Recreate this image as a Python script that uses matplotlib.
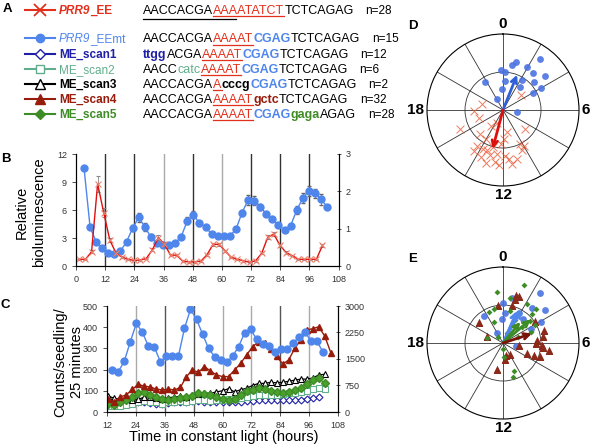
import numpy as np
import matplotlib
matplotlib.use("Agg")
import matplotlib.pyplot as plt

plt.rcParams['font.family'] = ['Liberation Sans', 'DejaVu Sans']

W, H = 592, 448

# colours
RED = '#e2301c'
LBLUE = '#4f86ec'
DBLUE = '#1f1fa8'
MINT = '#62ae8c'
DRED = '#981c0c'
GREEN = '#3d8c26'

# ---------------- panel A: legend + sequences ----------------
legend_names = [("PRR9", "_EE"), ("PRR9", "_EEmt"), ("", "ME_scan1"), ("", "ME_scan2"),
                ("", "ME_scan3"), ("", "ME_scan4"), ("", "ME_scan5")]
legend_counts = ["n=28", "n=15", "n=12", "n=6", "n=2", "n=32", "n=28"]
seq_rows = [
    [("AACCACGA", "k"), ("AAAATATCT", "u"), ("TCTCAGAG", "k")],
    [("AACCACGA", "k"), ("AAAAT", "u"), ("CGAG", "B"), ("TCTCAGAG", "k")],
    [("ttgg", "s1"), ("ACGA", "k"), ("AAAAT", "u"), ("CGAG", "B"), ("TCTCAGAG", "k")],
    [("AACC", "k"), ("catc", "s2"), ("AAAAT", "u"), ("CGAG", "B"), ("TCTCAGAG", "k")],
    [("AACCACGA", "k"), ("A", "u"), ("cccg", "s3"), ("CGAG", "B"), ("TCTCAGAG", "k")],
    [("AACCACGA", "k"), ("AAAAT", "u"), ("gctc", "s4"), ("TCTCAGAG", "k")],
    [("AACCACGA", "k"), ("AAAAT", "u"), ("CGAG", "B"), ("gaga", "s5"), ("AGAG", "k")],
]

# ---------------- panel B: bioluminescence ----------------
b_time_mt = [3.3, 5.8, 8.3, 10.8, 13.3, 15.8, 18.3, 20.8, 23.3, 25.8, 28.3, 30.8, 33.3, 35.8,
             38.3, 40.8, 43.3, 45.8, 48.3, 50.8, 53.3, 55.8, 58.3, 60.8, 63.3, 65.8, 68.3, 70.8,
             73.3, 75.8, 78.3, 80.8, 83.3, 85.8, 88.3, 90.8, 93.3, 95.8, 98.3, 100.8, 103.3]
b_eemt = [10.5, 4.15, 2.6, 1.9, 1.43, 1.25, 1.6, 2.6, 4.05, 5.2, 4.2, 3.1, 2.5, 2.25, 2.2, 2.45,
          3.15, 4.85, 5.5, 4.57, 4.15, 3.43, 3.25, 3.22, 3.22, 3.93, 5.7, 7.07, 7.0, 6.35, 5.57,
          5.0, 4.4, 3.86, 4.3, 6.0, 7.25, 8.07, 7.8, 7.15, 6.35]
b_eemt_err = [0.1, 0.2, 0.15, 0.15, 0.1, 0.1, 0.1, 0.15, 0.3, 0.45, 0.4, 0.3, 0.2, 0.15, 0.15,
              0.15, 0.2, 0.4, 0.4, 0.3, 0.2, 0.15, 0.1, 0.1, 0.1, 0.2, 0.3, 0.55, 0.5, 0.3, 0.25,
              0.2, 0.2, 0.2, 0.25, 0.45, 0.55, 0.55, 0.5, 0.6, 0.2]
b_time_ee = [1.4, 3.9, 6.4, 8.9, 11.4, 13.9, 16.4, 18.9, 21.4, 23.9, 26.4, 28.9, 31.4, 33.9,
             36.4, 38.9, 41.4, 43.9, 46.4, 48.9, 51.4, 53.9, 56.4, 58.9, 61.4, 63.9, 66.4, 68.9,
             71.4, 73.9, 76.4, 78.9, 81.4, 83.9, 86.4, 88.9, 91.4, 93.9, 96.4, 98.9, 101.4]
b_ee = [0.18, 0.18, 0.38, 2.2, 1.43, 0.7, 0.35, 0.24, 0.18, 0.15, 0.16, 0.2, 0.43, 0.76, 0.58,
        0.29, 0.29, 0.13, 0.11, 0.11, 0.13, 0.3, 0.58, 0.58, 0.4, 0.23, 0.18, 0.14, 0.1, 0.14,
        0.34, 0.77, 0.85, 0.56, 0.36, 0.28, 0.18, 0.18, 0.18, 0.18, 0.55]
b_ee_err = [0.02, 0.02, 0.04, 0.22, 0.12, 0.05, 0.03, 0.02, 0.02, 0.02, 0.02, 0.02, 0.04, 0.06,
            0.05, 0.03, 0.03, 0.02, 0.02, 0.02, 0.02, 0.03, 0.04, 0.04, 0.03, 0.02, 0.02, 0.02,
            0.02, 0.02, 0.03, 0.05, 0.05, 0.04, 0.03, 0.02, 0.02, 0.02, 0.02, 0.02, 0.04]

# ---------------- panel C: counts per seedling ----------------
c_time_mt = [14.2, 16.7, 19.2, 21.7, 24.2, 26.7, 29.2, 31.7, 34.2, 36.7, 39.2, 41.7, 44.2, 46.7,
             49.2, 51.7, 54.2, 56.7, 59.2, 61.7, 64.2, 66.7, 69.2, 71.7, 74.2, 76.7, 79.2, 81.7,
             84.2, 86.7, 89.2, 91.7, 94.2, 96.7, 99.2, 101.7]
c_eemt = [198, 190, 240, 332, 418, 376, 311, 305, 237, 264, 264, 264, 395, 484, 437, 368, 300,
          261, 245, 234, 264, 308, 374, 390, 343, 319, 311, 284, 295, 295, 324, 352, 379, 335,
          335, 284]
c_time = [12.5, 15.0, 17.5, 20.0, 22.5, 25.0, 27.5, 30.0, 32.5, 35.0, 37.5, 40.0, 42.5, 45.0,
          47.5, 50.0, 52.5, 55.0, 57.5, 60.0, 62.5, 65.0, 67.5, 70.0, 72.5, 75.0, 77.5, 80.0,
          82.5, 85.0, 87.5, 90.0, 92.5, 95.0, 97.5, 100.0, 102.5, 105.0]
c_scan1 = [50, 45, 40, 42, 45, 45, 45, 42, 40, 40, 42, 45, 45, 48, 50, 50, 48, 48, 47, 45, 45,
           47, 48, 50, 52, 55, 55, 55, 55, 55, 55, 57, 58, 62, 65, 70]
c_scan2 = [30, 28, 30, 35, 40, 45, 50, 48, 45, 40, 45, 48, 50, 48, 52, 55, 55, 52, 55, 58, 60,
           62, 65, 70, 75, 78, 80, 80, 82, 85, 88, 90, 95, 98, 110, 115, 110]
c_scan3 = [75, 65, 60, 62, 55, 60, 70, 72, 68, 62, 68, 70, 75, 72, 80, 85, 90, 88, 95, 100, 110,
           95, 105, 112, 125, 135, 135, 140, 138, 140, 145, 150, 155, 155, 160, 175, 178]
c_scan4 = [60, 49, 72, 80, 107, 130, 122, 118, 108, 104, 108, 104, 116, 167, 198, 187, 214, 193,
           175, 167, 167, 198, 229, 269, 308, 332, 327, 296, 264, 226, 245, 300, 340, 387, 393,
           402, 358, 280]
c_scan5 = [40, 35, 45, 55, 70, 88, 95, 80, 70, 60, 55, 60, 65, 70, 75, 90, 85, 80, 70, 60, 55,
           62, 80, 100, 105, 112, 110, 100, 95, 90, 95, 105, 115, 130, 150, 160, 135]

# ---------------- panels D, E: phase (h) and amplitude ----------------
d_mt_phase = [2.38, 1.02, 0.77, 1.99, 23.85, 0.2, 2.61, 3.36, 21.83, 0.21, 2.2, 3.25, 23.88, 2.4,
              4.01, 4.02, 22.0, 6.44]
d_mt_r = [0.83, 0.66, 0.60, 0.645, 0.53, 0.50, 0.63, 0.71, 0.44, 0.38, 0.47, 0.55, 0.28, 0.37,
          0.58, 0.46, 0.16, 0.19]
d_ee_phase = [3.4, 19.0, 17.9, 14.5, 8.7, 16.4, 14.9, 14.0, 14.4, 13.8, 13.0, 12.5, 13.1, 13.65,
              11.8, 11.5, 10.9, 10.2, 10.3, 12.25, 11.9, 12.6, 13.2, 12.27, 11.36, 14.4, 13.5,
              11.3, 13.4, 16.7, 10.0]
d_ee_r = [0.31, 0.29, 0.38, 0.26, 0.38, 0.62, 0.44, 0.44, 0.59, 0.58, 0.51, 0.58, 0.62, 0.68,
          0.60, 0.65, 0.67, 0.50, 0.59, 0.45, 0.38, 0.69, 0.74, 0.73, 0.72, 0.66, 0.19, 0.30,
          0.57, 0.33, 0.55]
d_mean_phase = [1.45, 13.0]
d_mean_r = [0.50, 0.53]

e_mt_phase = [2.42, 3.45, 2.6, 0.0, 0.25, 21.6, 1.8, 4.07, 21.9, 6.8, 2.6, 4.2, 23.8, 0.76]
e_mt_r = [0.82, 0.71, 0.60, 0.52, 0.39, 0.435, 0.45, 0.57, 0.155, 0.17, 0.41, 0.42, 0.32, 0.6]
e_s4_phase = [1.0, 1.3, 23.46, 0.88, 20.8, 19.55, 9.7, 11.5, 12.8, 7.5, 7.4, 7.24, 6.19, 4.87,
              5.37, 6.62, 3.66, 5.67, 6.5, 6.34, 1.05, 6.03, 11.1]
e_s4_r = [0.65, 0.65, 0.51, 0.52, 0.42, 0.23, 0.17, 0.21, 0.35, 0.34, 0.44, 0.52, 0.52, 0.57,
          0.54, 0.61, 0.51, 0.45, 0.21, 0.53, 0.60, 0.44, 0.16]
e_s5_phase = [1.33, 23.54, 0.57, 23.03, 22.4, 2.1, 3.02, 3.35, 4.07, 1.87, 2.0, 3.32, 4.6, 19.27,
              12.0, 11.7, 10.6, 10.9, 21.5, 2.93, 22.5, 1.6, 4.5, 0.87]
e_s5_r = [0.81, 0.67, 0.6, 0.46, 0.44, 0.6, 0.54, 0.46, 0.48, 0.34, 0.27, 0.32, 0.40, 0.22, 0.08,
          0.18, 0.39, 0.47, 0.10, 0.63, 0.30, 0.14, 0.22, 0.43]
e_mean_phase = [1.57, 1.9, 2.64, 3.3, 4.8]
e_mean_r = [0.46, 0.50, 0.36, 0.48, 0.40]
e_mean_col = [LBLUE, LBLUE, GREEN, GREEN, '#7a1408']
clock_labels = ["0", "6", "12", "18"]

fig = plt.figure(figsize=(W / 100, H / 100), dpi=100)

# overlay in pixel coordinates for panel A and labels
ov = fig.add_axes([0, 0, 1, 1], zorder=-1)
ov.set_xlim(0, W)
ov.set_ylim(H, 0)
ov.axis('off')
renderer = fig.canvas.get_renderer()


def put(x, y, s, **kw):
    t = ov.text(x, y, s, va='baseline', ha='left', **kw)
    return x + t.get_window_extent(renderer).width


def width_of(s, **kw):
    t = ov.text(10, 10, s, **kw)
    w = t.get_window_extent(renderer).width
    t.remove()
    return w


styles = {'k': ('black', 'normal'), 'u': (RED, 'normal'), 'B': (LBLUE, 'bold'),
          's1': (DBLUE, 'bold'), 's2': (MINT, 'normal'), 's3': ('black', 'bold'),
          's4': (DRED, 'bold'), 's5': (GREEN, 'bold')}
leg_col = [RED, LBLUE, DBLUE, MINT, 'black', DRED, GREEN]
leg_mark = [dict(marker='x', ms=9, mew=1.3), dict(marker='o', ms=6),
            dict(marker='D', ms=5.5, mfc='white'), dict(marker='s', ms=5.5, mfc='white'),
            dict(marker='^', ms=6.5, mfc='white'), dict(marker='^', ms=7), dict(marker='D', ms=5.5)]
leg_weight = ['bold', 'normal', 'bold', 'normal', 'bold', 'bold', 'bold']
row_y = [14, 42.5, 58, 73, 88, 103, 118]

for i, segs in enumerate(seq_rows):
    yb = row_y[i]
    ov.plot([25, 40, 55], [yb - 4] * 3, color=leg_col[i], lw=1.5, markevery=[1], **leg_mark[i])
    x = 59
    if legend_names[i][0]:
        x = put(x, yb, legend_names[i][0], color=leg_col[i], fontsize=8.5,
                fontweight=leg_weight[i], fontstyle='italic')
    put(x, yb, legend_names[i][1], color=leg_col[i], fontsize=8.5, fontweight=leg_weight[i])
    x = 143
    for s, key in segs:
        c, w = styles[key]
        x1 = put(x, yb, s, color=c, fontweight=w, fontsize=9)
        if key == 'u':
            ov.plot([x, x1], [yb + 2.5, yb + 2.5], color=RED, lw=0.9)
            if i == 0:
                xa = width_of("AAA", fontsize=9)
                ov.plot([143, x + xa - 2], [yb + 5.5, yb + 5.5], color='black', lw=0.9)
        x = x1
    put(x + 12, yb, legend_counts[i], fontsize=8.5)

tick_kw = dict(labelsize=6.5, length=3, width=0.6, colors='#333')

# ---------------- panel B ----------------
axb = fig.add_axes([76 / W, 1 - 266 / H, 262.5 / W, 112 / H])
axb.set_xlim(0, 108)
axb.set_ylim(0, 12)
axb.set_xticks(range(0, 109, 12))
axb.set_yticks([0, 3, 6, 9, 12])
for t, c in zip(range(12, 97, 12), ['#333', '#333', '#aaa', '#333', '#aaa', '#333', '#333', '#333']):
    axb.axvline(t, color=c, lw=1.0, zorder=0)
axb.errorbar(b_time_mt, b_eemt, yerr=b_eemt_err, color=LBLUE, marker='o', ms=5, lw=1,
             ecolor='#666', elinewidth=0.6, capsize=1.5, zorder=3)
axb2 = axb.twinx()
axb2.set_ylim(0, 3)
axb2.set_yticks([0, 1, 2, 3])
axb2.errorbar(b_time_ee, b_ee, yerr=b_ee_err, color='#e01010', marker='x', ms=5, mec='#f0806a',
              mew=0.8, lw=1, ecolor='#888', elinewidth=0.6, capsize=1.5)
for a in (axb, axb2):
    a.spines['top'].set_visible(False)
    a.tick_params(**tick_kw)
axb2.tick_params(axis='y', direction='inout')

# ---------------- panel C ----------------
axc = fig.add_axes([107 / W, 1 - 412 / H, 231 / W, 106 / H])
axc.set_xlim(12, 108)
axc.set_ylim(0, 500)
axc.set_xticks(range(12, 109, 12))
axc.set_yticks(range(0, 501, 100))
for t, c in zip(range(24, 97, 12), ['#aaa', '#555', '#555', '#aaa', '#aaa', '#555', '#aaa']):
    axc.axvline(t, color=c, lw=1.0, zorder=0)
axc.plot(c_time[:len(c_scan1)], c_scan1, color=DBLUE, marker='D', ms=3.5, mfc='white', mew=0.8, lw=0.9)
axc.plot(c_time[:len(c_scan2)], c_scan2, color=MINT, marker='s', ms=3.8, mfc='white', mew=0.8, lw=0.9)
axc.plot(c_time[:len(c_scan3)], c_scan3, color='black', marker='^', ms=4.2, mfc='white', mew=0.8, lw=0.9)
axc.plot(c_time[:len(c_scan5)], c_scan5, color=GREEN, marker='D', ms=4, lw=0.9, mfc='#4aa02a')
axc.plot(c_time[:len(c_scan4)], c_scan4, color=DRED, marker='^', ms=5, lw=1)
axc.plot(c_time_mt, c_eemt, color=LBLUE, marker='o', ms=5, lw=1)
axc2 = axc.twinx()
axc2.set_ylim(0, 3000)
axc2.set_yticks([0, 750, 1500, 2250, 3000])
for a in (axc, axc2):
    a.spines['top'].set_visible(False)
    a.tick_params(**tick_kw)
axc2.tick_params(axis='y', direction='inout')

# axis titles
ov.text(22, 212, "Relative", rotation=90, ha='center', va='center', fontsize=10.5)
ov.text(39, 212, "bioluminescence", rotation=90, ha='center', va='center', fontsize=10.5)
ov.text(60, 362, "Counts/seedling/", rotation=90, ha='center', va='center', fontsize=10.5)
ov.text(77, 362, "25 minutes", rotation=90, ha='center', va='center', fontsize=10.5)
ov.text(224, 437, "Time in constant light (hours)", ha='center', va='center', fontsize=10.5)


# ---------------- panels D, E ----------------
def polar_panel(rect, cx, cy, rpx):
    ax = fig.add_axes(rect, projection='polar')
    ax.set_theta_zero_location('N')
    ax.set_theta_direction(-1)
    ax.set_ylim(0, 1)
    ax.set_yticks([0.5])
    ax.set_yticklabels([])
    ax.set_xticks(np.radians(np.arange(0, 360, 30)))
    ax.set_xticklabels([])
    ax.grid(color='#333', lw=0.6)
    ax.spines['polar'].set_linewidth(0.8)
    kw = dict(fontsize=11, fontweight='bold')
    ov.text(cx, cy - rpx - 3, clock_labels[0], ha='center', va='bottom', **kw)
    ov.text(cx + rpx + 2, cy, clock_labels[1], ha='left', va='center', **kw)
    ov.text(cx, cy + rpx + 2, clock_labels[2], ha='center', va='top', **kw)
    ov.text(cx - rpx - 3, cy, clock_labels[3], ha='right', va='center', **kw)
    return ax


def rad(h):
    return np.array(h) / 24.0 * 2 * np.pi


axd = polar_panel([427 / W, 1 - 186 / H, 152 / W, 152 / H], 503, 110, 76)
axd.scatter(rad(d_ee_phase), d_ee_r, marker='x', s=32, lw=0.7, color='#e8502a', alpha=0.75, zorder=3)
axd.scatter(rad(d_mt_phase), d_mt_r, marker='o', s=24, color='#4a72e0', alpha=0.9, lw=0, zorder=3)
for th, r, c in zip(rad(d_mean_phase), d_mean_r, ['#3060d8', '#dd1010']):
    axd.annotate('', xy=(th, r), xytext=(0, 0),
                 arrowprops=dict(arrowstyle='->', color=c, lw=2, shrinkA=0, shrinkB=0,
                                 mutation_scale=10), zorder=4)

axe = polar_panel([427 / W, 1 - 419 / H, 152 / W, 152 / H], 503, 343, 76)
axe.scatter(rad(e_mt_phase), e_mt_r, marker='o', s=24, color='#4a72e0', alpha=0.9, lw=0, zorder=3)
axe.scatter(rad(e_s4_phase), e_s4_r, marker='^', s=30, color='#8b2a1a', lw=0, zorder=3)
axe.scatter(rad(e_s5_phase), e_s5_r, marker='D', s=9, color='#3d8c26', lw=0, zorder=3)
for th, r, c in zip(rad(e_mean_phase), e_mean_r, e_mean_col):
    axe.annotate('', xy=(th, r), xytext=(0, 0),
                 arrowprops=dict(arrowstyle='->', color=c, lw=2, shrinkA=0, shrinkB=0,
                                 mutation_scale=10), zorder=4)

# panel letters
for s, x, y in [("A", 7, 12), ("B", 6, 162), ("C", 5, 308), ("D", 413, 29), ("E", 413, 262)]:
    ov.text(x, y, s, fontsize=9.5, fontweight='bold', ha='center', va='baseline')

fig.savefig("out.png", dpi=100)
